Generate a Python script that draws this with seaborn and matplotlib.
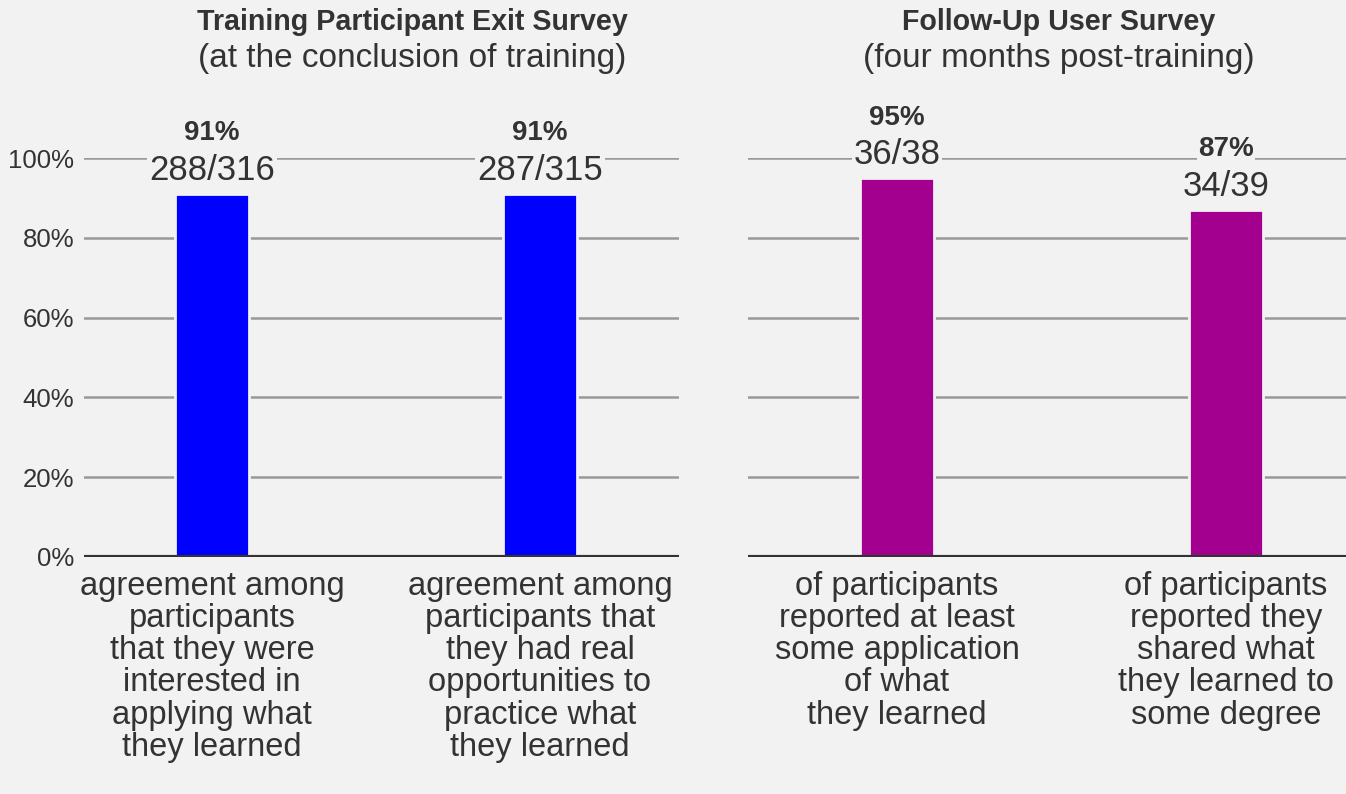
import matplotlib
matplotlib.use("Agg")
import matplotlib.pyplot as plt
import seaborn as sns

# ---- data ----
left_cats = [
    "agreement among\nparticipants\nthat they were\ninterested in\napplying what\nthey learned",
    "agreement among\nparticipants that\nthey had real\nopportunities to\npractice what\nthey learned",
]
left_vals = [91, 91]
left_fracs = ["288/316", "287/315"]

right_cats = [
    "of participants\nreported at least\nsome application\nof what\nthey learned",
    "of participants\nreported they\nshared what\nthey learned to\nsome degree",
]
right_vals = [95, 87]
right_fracs = ["36/38", "34/39"]

y_ticks = [0, 20, 40, 60, 80, 100]
y_tick_labels = ["0%", "20%", "40%", "60%", "80%", "100%"]

titles = ["Training Participant Exit Survey", "Follow-Up User Survey"]
subtitles = ["(at the conclusion of training)", "(four months post-training)"]

BG = "#f2f2f2"
TXT = "#333333"

sns.set_theme(style="white")
plt.rcParams["font.family"] = ["Liberation Sans", "DejaVu Sans"]

fig = plt.figure(figsize=(13.46, 7.94), dpi=100, facecolor=BG)
axL = fig.add_axes([84 / 1346, 1 - 557 / 794, 595 / 1346, 399 / 794])
axR = fig.add_axes([748 / 1346, 1 - 557 / 794, 598 / 1346, 399 / 794])


def draw(ax, cats, vals, fracs, color, xlim, show_y):
    ax.set_facecolor(BG)
    sns.barplot(x=cats, y=vals, color=color, width=0.226, ax=ax,
                edgecolor=BG, linewidth=2, zorder=3, saturation=1)
    ax.set_ylim(0, 100)
    ax.set_xlim(*xlim)
    ax.set_yticks(y_ticks)
    for y in y_ticks[1:]:
        ax.axhline(y, color="#999999", lw=1.8, zorder=1)
    ax.axhline(0, color="#333333", lw=3, zorder=4)
    for s in ax.spines.values():
        s.set_visible(False)
    if show_y:
        ax.set_yticklabels(y_tick_labels, fontsize=18.5, color=TXT)
    else:
        ax.set_yticklabels([])
    ax.tick_params(axis="y", length=0, pad=7)
    ax.tick_params(axis="x", length=0, pad=10)
    for lab in ax.get_xticklabels():
        lab.set_fontsize(23.5)
        lab.set_color(TXT)
        lab.set_linespacing(1.05)
    for i, (v, f) in enumerate(zip(vals, fracs)):
        ax.annotate(f, (i, v), xytext=(0, 17), textcoords="offset points",
                    ha="center", va="center", fontsize=25, color=TXT,
                    zorder=5, annotation_clip=False,
                    bbox=dict(boxstyle="square,pad=0.05", fc=BG, ec="none"))
        ax.annotate(f"{v}%", (i, v), xytext=(0, 43.5), textcoords="offset points",
                    ha="center", va="center", fontsize=20, fontweight="bold",
                    color=TXT, zorder=5, annotation_clip=False,
                    bbox=dict(boxstyle="square,pad=0.05", fc=BG, ec="none"))


draw(axL, left_cats, left_vals, left_fracs, "#0000ff", (-0.39, 1.424), True)
draw(axR, right_cats, right_vals, right_fracs, "#a3008f", (-0.453, 1.365), False)

for xc, t, st in zip([412, 1059], titles, subtitles):
    fig.text(xc / 1346, 1 - 22 / 794, t, ha="center", va="center",
             fontsize=20.6, fontweight="bold", color=TXT)
    fig.text(xc / 1346, 1 - 58 / 794, st, ha="center", va="center",
             fontsize=24, color=TXT)

fig.savefig("out.png", dpi=100, facecolor=BG)
